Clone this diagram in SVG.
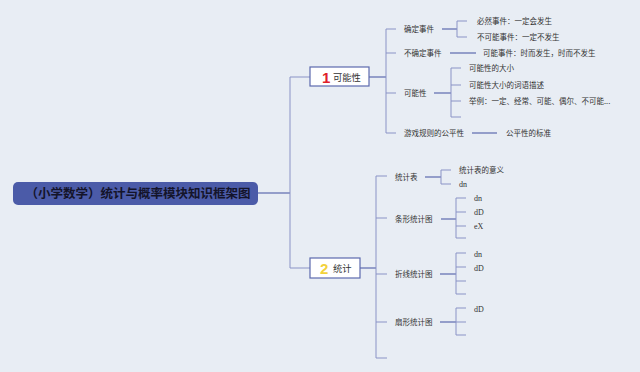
<svg xmlns="http://www.w3.org/2000/svg" width="640" height="372" viewBox="0 0 640 372">
<style>
.t{font-family:"Noto Sans CJK SC","Noto Sans",sans-serif;font-size:7.5px;fill:#333;}
.s{font-family:"Liberation Serif",serif;font-size:8px;fill:#333;}
.c{fill:none;stroke:#8a93c6;stroke-width:1;}
.d{fill:none;stroke:#5c69ad;stroke-width:1.2;}
.box{fill:#ffffff;stroke:#5c69ad;stroke-width:1.2;}
</style>
<rect x="0" y="0" width="640" height="372" fill="#e8edf4"/>
<g id="connectors">
<path class="d" d="M258,193 H290"/>
<path class="c" d="M310,77 H290 V268 H310"/>
<path class="d" d="M369,77 H386"/>
<path class="c" d="M396,29 H386 V133 H396 M386,53 H396 M386,93 H396"/>
<path class="d" d="M442,29 H457"/>
<path class="c" d="M467,21 H457 V37 H467"/>
<path class="d" d="M450,53 H476"/>
<path class="d" d="M434,93 H451"/>
<path class="c" d="M461,68 H451 V117 H461 M451,85 H461 M451,101 H461"/>
<path class="d" d="M472,133 H497"/>
<path class="d" d="M360,268 H376"/>
<path class="c" d="M387,176 H376 V358 H387 M376,218 H387 M376,274 H387 M376,322 H387"/>
<path class="d" d="M425,177 H441"/>
<path class="c" d="M451,170 H441 V184 H451"/>
<path class="d" d="M441,219 H456"/>
<path class="c" d="M466,198 H456 V238 H466 M456,212 H466 M456,226 H466"/>
<path class="d" d="M440,274 H456"/>
<path class="c" d="M466,253 H456 V294 H466 M456,267 H466 M456,281 H466"/>
<path class="d" d="M440,322 H456"/>
<path class="c" d="M466,308 H456 V335 H466 M456,322 H466"/>
</g>
<g id="root">
<rect x="13" y="182" width="245" height="23" rx="5" fill="#4b5ba8"/>
<text x="138" y="197.5" text-anchor="middle" font-family="'Noto Sans CJK SC',sans-serif" font-size="12.5" font-weight="bold" fill="#14142a">（小学数学）统计与概率模块知识框架图</text>
</g>
<g id="n1">
<rect class="box" x="310" y="67" width="59" height="19"/>
<text x="322" y="82.5" font-family="'Liberation Sans',sans-serif" font-size="15" font-weight="bold" fill="#e0202a">1</text>
<text x="333" y="80.5" font-family="'Noto Sans CJK SC',sans-serif" font-size="9.3" fill="#333">可能性</text>
</g>
<g id="n2">
<rect class="box" x="310" y="258" width="50" height="20"/>
<text x="320" y="274" font-family="'Liberation Sans',sans-serif" font-size="15" font-weight="bold" fill="#f2d23c">2</text>
<text x="333" y="271.5" font-family="'Noto Sans CJK SC',sans-serif" font-size="9.3" fill="#333">统计</text>
</g>
<g id="n1-1"><text class="t" x="404" y="31.8">确定事件</text></g>
<g id="n1-1-1"><text class="t" x="477" y="23.8">必然事件：一定会发生</text></g>
<g id="n1-1-2"><text class="t" x="477" y="39.8">不可能事件：一定不发生</text></g>
<g id="n1-2"><text class="t" x="404" y="55.8">不确定事件</text></g>
<g id="n1-2-1"><text class="t" x="483" y="55.8">可能事件：时而发生，时而不发生</text></g>
<g id="n1-3"><text class="t" x="404" y="95.8">可能性</text></g>
<g id="n1-3-1"><text class="t" x="469" y="70.8">可能性的大小</text></g>
<g id="n1-3-2"><text class="t" x="469" y="87.8">可能性大小的词语描述</text></g>
<g id="n1-3-3"><text class="t" x="469" y="103.8">举例：一定、经常、可能、偶尔、不可能...</text></g>
<g id="n1-4"><text class="t" x="404" y="135.8">游戏规则的公平性</text></g>
<g id="n1-4-1"><text class="t" x="506" y="135.8">公平性的标准</text></g>
<g id="n2-1"><text class="t" x="395" y="179.8">统计表</text></g>
<g id="n2-1-1"><text class="t" x="459" y="172.8">统计表的意义</text></g>
<g id="n2-1-2"><text class="s" x="459" y="186.8">dn</text></g>
<g id="n2-2"><text class="t" x="395" y="221.8">条形统计图</text></g>
<g id="n2-2-1"><text class="s" x="474" y="200.8">dn</text></g>
<g id="n2-2-2"><text class="s" x="474" y="214.8">dD</text></g>
<g id="n2-2-3"><text class="s" x="474" y="228.8">eX</text></g>
<g id="n2-3"><text class="t" x="395" y="276.8">折线统计图</text></g>
<g id="n2-3-1"><text class="s" x="474" y="256.8">dn</text></g>
<g id="n2-3-2"><text class="s" x="474" y="270.8">dD</text></g>
<g id="n2-4"><text class="t" x="395" y="324.8">扇形统计图</text></g>
<g id="n2-4-1"><text class="s" x="474" y="311.8">dD</text></g>
</svg>
